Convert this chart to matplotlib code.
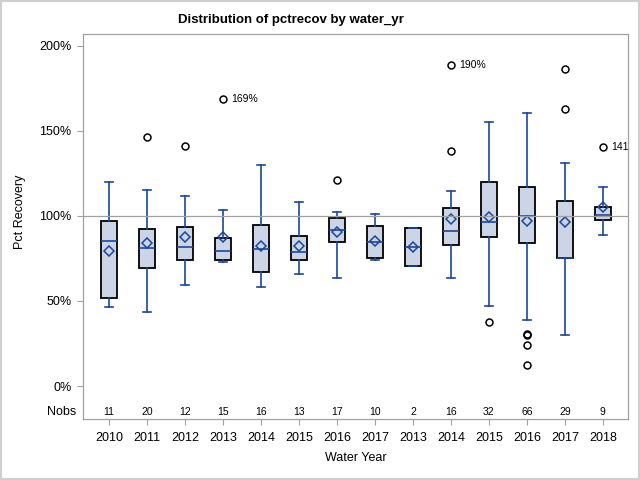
import matplotlib
matplotlib.use('Agg')
import matplotlib.pyplot as plt
import matplotlib.transforms as mtransforms

plt.rcParams['font.family'] = ['Liberation Sans', 'DejaVu Sans']

# values (percent recovery)
years = ['2010', '2011', '2012', '2013', '2014', '2015', '2016', '2017',
         '2013', '2014', '2015', '2016', '2017', '2018']
nobs = [11, 20, 12, 15, 16, 13, 17, 10, 2, 16, 32, 66, 29, 9]
whis_lo = [46.3, 43.3, 59.4, 72.7, 58.0, 65.7, 63.3, 73.9, 70.5, 63.3, 46.9, 38.6, 29.8, 88.6]
q1 = [51.6, 69.2, 73.9, 73.9, 66.9, 73.9, 84.5, 75.1, 70.5, 82.7, 87.5, 83.9, 75.1, 97.4]
med = [85.1, 81.0, 81.6, 79.3, 80.4, 78.8, 91.6, 84.9, 82.0, 91.0, 96.3, 99.8, 75.1, 100.6]
q3 = [96.9, 92.2, 93.3, 86.9, 94.5, 88.0, 98.6, 93.9, 93.2, 104.5, 119.8, 116.9, 109.0, 105.1]
whis_hi = [119.8, 115.1, 111.8, 103.3, 129.8, 108.0, 102.2, 101.4, 93.2, 114.5, 155.1, 160.4, 131.0, 116.9]
means = [79.4, 83.9, 87.5, 87.5, 82.3, 82.3, 90.4, 85.0, 82.0, 98.2, 99.6, 97.3, 96.4, 105.0]
outliers = [[], [146.3], [141.0], [168.6], [], [], [121.0], [], [],
            [188.8, 138.0], [37.5], [30.4, 30.0, 23.9, 12.2], [186.3, 162.7], [140.4]]
# outliers that carry a label: (box index, value, text)
labelled = [(3, 168.6, '169%'), (9, 188.8, '190%'), (13, 140.4, '141%')]

blue = '#1a47a0'
gray = '#a0a0a0'

stats = []
for i in range(len(years)):
    stats.append({'whislo': whis_lo[i], 'q1': q1[i], 'med': med[i], 'q3': q3[i],
                  'whishi': whis_hi[i], 'mean': means[i], 'fliers': outliers[i]})

fig = plt.figure(figsize=(6.4, 4.8), dpi=100)
fig.patch.set_edgecolor('#cfcfcf')
fig.patch.set_linewidth(1.5)
ax = fig.add_axes([83 / 640, 1 - 419 / 480, 545 / 640, 385 / 480])

ax.axhline(100, color=gray, lw=0.9, zorder=5)

ax.bxp(stats, positions=range(len(years)), widths=0.4, capwidths=0.22,
       showmeans=True, patch_artist=True,
       boxprops=dict(facecolor='#cbd5e5', edgecolor='black', linewidth=1.3),
       whiskerprops=dict(color=blue, linewidth=1.2),
       capprops=dict(color=blue, linewidth=1.2),
       medianprops=dict(color=blue, linewidth=1.2),
       meanprops=dict(marker='D', markerfacecolor='none', markeredgecolor=blue,
                      markersize=5.5, markeredgewidth=1.1),
       flierprops=dict(marker='o', markerfacecolor='none', markeredgecolor='black',
                       markersize=5, markeredgewidth=1.1))

for i, v, t in labelled:
    ax.annotate(t, (i, v), xytext=(6, 0), textcoords='offset points',
                fontsize=7.5, va='center', ha='left', annotation_clip=False,
                clip_on=True)

ax.set_xlim(-0.684, len(years) - 1 + 0.66)
ax.set_ylim(-19.4, 207)
ax.set_yticks([0, 50, 100, 150, 200])
ax.set_yticklabels(['0%', '50%', '100%', '150%', '200%'])
ax.set_xticks(range(len(years)))
ax.set_xticklabels(years)
ax.tick_params(axis='both', colors=gray, labelcolor='black', labelsize=9,
               length=4.3, width=0.8)
ax.tick_params(axis='x', pad=4.8)
ax.tick_params(axis='y', pad=4)
for s in ax.spines.values():
    s.set_color(gray)
    s.set_linewidth(0.9)

# Nobs row inside the plot area
trans = mtransforms.blended_transform_factory(ax.transData, ax.transAxes)
for i, n in enumerate(nobs):
    ax.text(i, 0.018, str(n), transform=trans, ha='center', va='center', fontsize=7.5)
ax.text(-0.013, 0.018, 'Nobs', transform=ax.transAxes, ha='right', va='center', fontsize=9)

fig.text(291 / 640, 1 - 20 / 480, 'Distribution of pctrecov by water_yr',
         ha='center', va='center', fontsize=9.5, fontweight='bold')
fig.text(20 / 640, 1 - 212 / 480, 'Pct Recovery', rotation=90,
         ha='center', va='center', fontsize=9)
fig.text(356 / 640, 1 - 458 / 480, 'Water Year', ha='center', va='center', fontsize=9)

fig.savefig('out.png', dpi=100)
